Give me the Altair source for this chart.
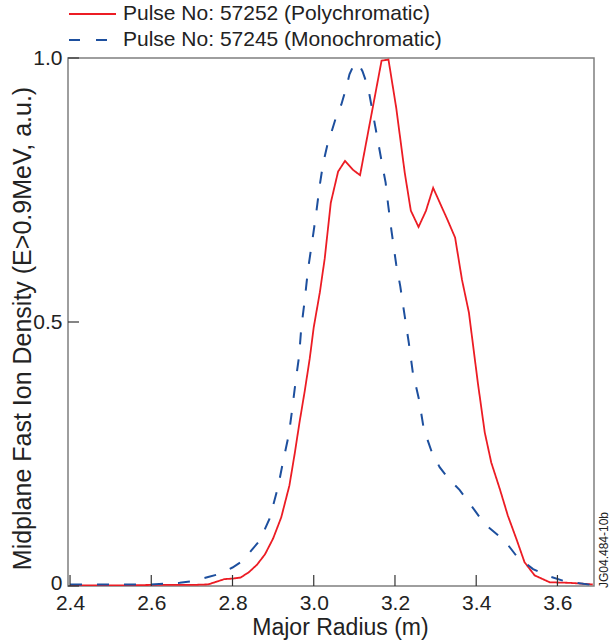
import altair as alt
import pandas as pd

# ---- data ----
series_names = ["Pulse No: 57252 (Polychromatic)", "Pulse No: 57245 (Monochromatic)"]

red_R = [2.40, 2.50, 2.60, 2.70, 2.74, 2.76, 2.78, 2.80, 2.82, 2.84, 2.86, 2.88, 2.90,
         2.92, 2.94, 2.953, 2.965, 2.978, 2.99, 3.00, 3.015, 3.027, 3.042, 3.06, 3.077,
         3.097, 3.114, 3.167, 3.184, 3.203, 3.224, 3.239, 3.258, 3.276, 3.294, 3.329,
         3.348, 3.365, 3.382, 3.404, 3.421, 3.437, 3.458, 3.478, 3.499, 3.519, 3.544,
         3.581, 3.63, 3.687]
red_D = [0.001, 0.001, 0.002, 0.002, 0.003, 0.008, 0.013, 0.014, 0.016, 0.026, 0.040,
         0.060, 0.090, 0.130, 0.190, 0.250, 0.310, 0.370, 0.430, 0.490, 0.556, 0.620,
         0.726, 0.785, 0.805, 0.788, 0.778, 0.995, 0.997, 0.906, 0.783, 0.711, 0.680,
         0.710, 0.754, 0.694, 0.660, 0.580, 0.518, 0.385, 0.291, 0.234, 0.184, 0.133,
         0.089, 0.045, 0.020, 0.007, 0.006, 0.003]

blue_R = [2.40, 2.50, 2.60, 2.67, 2.70, 2.74, 2.764, 2.80, 2.826, 2.846, 2.867, 2.891,
          2.912, 2.924, 2.939, 2.947, 2.955, 2.964, 2.969, 2.978, 2.986, 2.997, 3.005,
          3.015, 3.023, 3.035, 3.043, 3.057, 3.068, 3.08, 3.088, 3.101, 3.113, 3.12,
          3.134, 3.146, 3.158, 3.17, 3.177, 3.183, 3.191, 3.203, 3.213, 3.224, 3.234,
          3.244, 3.259, 3.271, 3.29, 3.31, 3.33, 3.359, 3.39, 3.421, 3.47, 3.499, 3.54,
          3.581, 3.618, 3.68]
blue_D = [0.003, 0.003, 0.003, 0.006, 0.009, 0.017, 0.022, 0.035, 0.048, 0.067, 0.086,
          0.127, 0.187, 0.234, 0.288, 0.335, 0.385, 0.436, 0.486, 0.543, 0.600, 0.657,
          0.700, 0.760, 0.800, 0.840, 0.858, 0.893, 0.912, 0.944, 0.969, 0.991, 0.985,
          0.975, 0.944, 0.893, 0.843, 0.792, 0.764, 0.723, 0.675, 0.609, 0.568, 0.511,
          0.461, 0.404, 0.354, 0.297, 0.255, 0.225, 0.205, 0.182, 0.150, 0.117, 0.086,
          0.057, 0.032, 0.018, 0.009, 0.0025]

x_ticks = [2.4, 2.6, 2.8, 3.0, 3.2, 3.4, 3.6]
y_ticks = [0.0, 0.5, 1.0]
stamp = ["JG04.484-10b"]

# ---- styling ----
W, H = 526, 528
RED = "#ec1c24"
BLUE = "#1d4f9e"
FONT = "Liberation Sans"
TXT = "#222222"
FS = 21

df = pd.concat([
    pd.DataFrame({"R": red_R, "D": red_D, "series": series_names[0]}),
    pd.DataFrame({"R": blue_R, "D": blue_D, "series": series_names[1]}),
])

xscale = alt.Scale(domain=[2.395, 3.69], nice=False, zero=False)
yscale = alt.Scale(domain=[0, 1], nice=False)

xaxis = alt.Axis(values=x_ticks, format=".1f", ticks=False, domain=False, grid=False,
                 labelFontSize=FS, labelFont=FONT, labelColor=TXT, labelPadding=6,
                 labelFlush=False,
                 title="Major Radius (m)", titleFontSize=23, titleFont=FONT,
                 titleFontWeight="normal", titleColor=TXT, titleLimit=600,
                 titleX=272, titleY=41, titleBaseline="middle", titleAlign="center")
yaxis = alt.Axis(values=y_ticks,
                 labelExpr="datum.value == 0 ? '0' : format(datum.value, '.1f')",
                 labelOffset={"condition": {"test": "datum.value == 0", "value": -3}, "value": 0},
                 ticks=False, domain=False, grid=False, labelFlush=False,
                 labelFontSize=FS, labelFont=FONT, labelColor=TXT, labelPadding=6,
                 title="Midplane Fast Ion Density (E>0.9MeV, a.u.)", titleFontSize=25,
                 titleFont=FONT, titleFontWeight="normal", titleColor=TXT, titleLimit=700,
                 titleX=-46, titleY=H / 2 + 6, titleAngle=270, titleBaseline="middle",
                 titleAlign="center")

lines = alt.Chart(df).mark_line(interpolate="linear", clip=True).encode(
    x=alt.X("R:Q", scale=xscale, axis=xaxis),
    y=alt.Y("D:Q", scale=yscale, axis=yaxis),
    color=alt.Color("series:N", scale=alt.Scale(domain=series_names, range=[RED, BLUE]), legend=None),
    strokeDash=alt.StrokeDash("series:N", scale=alt.Scale(domain=series_names, range=[[1, 0], [12, 15]]), legend=None),
    strokeWidth=alt.StrokeWidth("series:N", scale=alt.Scale(domain=series_names, range=[1.8, 2.0]), legend=None),
)

xt = alt.Chart(pd.DataFrame({"R": x_ticks})).mark_rule(color="#333333", strokeWidth=1.2).encode(
    x=alt.X("R:Q", scale=xscale, axis=xaxis), y=alt.value(H), y2=alt.value(H - 11))
yt = alt.Chart(pd.DataFrame({"D": y_ticks})).mark_rule(color="#333333", strokeWidth=1.2).encode(
    y=alt.Y("D:Q", scale=yscale, axis=yaxis), x=alt.value(0), x2=alt.value(11))

leg_layers = []
for i, (name, col, dash) in enumerate(zip(series_names, [RED, BLUE], [[1, 0], [11, 16]])):
    ly = -44 + 26 * i
    d = pd.DataFrame({"series": [name]})
    leg_layers.append(alt.Chart(d).mark_rule(color=col, strokeWidth=2, strokeDash=dash).encode(
        x=alt.value(1), x2=alt.value(48), y=alt.value(ly)))
    leg_layers.append(alt.Chart(d).mark_text(align="left", baseline="middle", fontSize=FS,
                                             font=FONT, color=TXT).encode(
        text="series:N", x=alt.value(55), y=alt.value(ly)))

stamp_layer = alt.Chart(pd.DataFrame({"lab": stamp})).mark_text(
    angle=270, fontSize=12, font=FONT, color=TXT, align="center", baseline="middle").encode(
    text="lab:N", x=alt.value(W + 10), y=alt.value(H - 36))

chart = alt.layer(lines, xt, yt, *leg_layers, stamp_layer).properties(
    width=W, height=H,
    padding={"left": 68, "top": 58, "right": 18, "bottom": 57},
    autosize=alt.AutoSizeParams(type="none"),
    background="white",
).configure_view(stroke="#7f7f7f", strokeWidth=1.5)

chart.save("out.html", embed_options={"renderer": "svg", "actions": False})
